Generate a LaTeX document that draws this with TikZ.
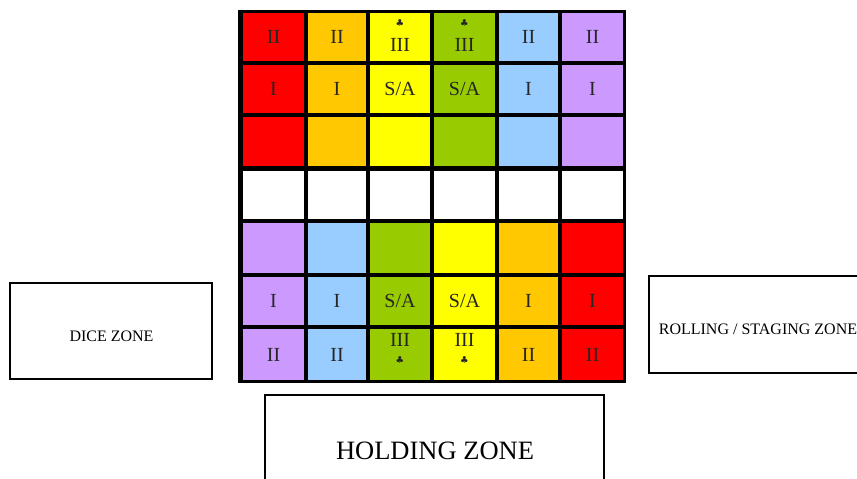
\documentclass[tikz,border=0pt]{standalone}
\usepackage{fontspec}
\setmainfont{Liberation Serif}
\newfontfamily\symfont{DejaVu Sans}
\definecolor{cred}{HTML}{FF0000}
\definecolor{corange}{HTML}{FFC800}
\definecolor{cyellow}{HTML}{FFFF00}
\definecolor{cgreen}{HTML}{99CC00}
\definecolor{cblue}{HTML}{99CCFF}
\definecolor{cpurple}{HTML}{CC99FF}
\tikzset{
  cellbox/.style={draw=none, inner sep=0pt, outer sep=0pt, anchor=north west},
  lab/.style={font=\fontsize{20}{22}\selectfont, inner sep=0pt, text height=13.2pt, text depth=0pt, text=black!85},
  clubmark/.style={font=\symfont\fontsize{9.5}{10}\selectfont, inner sep=0pt, text=black!85},
  zonebox/.style={draw=black, line width=2pt, fill=white, inner sep=0pt, outer sep=0pt},
  zonetext/.style={font=\fontsize{16}{18}\selectfont, inner sep=0pt, text height=10.6pt, text depth=0pt},
  bigtext/.style={font=\fontsize{26.5}{30}\selectfont, inner sep=0pt, text height=17.5pt, text depth=0pt}
}
\begin{document}
\begin{tikzpicture}[x=1pt,y=-1pt]
\useasboundingbox (0,0) rectangle (857,479);
\clip (0,0) rectangle (857,479);
\fill[white] (0,0) rectangle (857,479);
% board
\fill[black] (238,10) rectangle (626,383);
\foreach \c/\xa/\xb/\ct/\cb in {1/243/304/cred/cpurple, 2/308/366/corange/cblue, 3/370/430/cyellow/cgreen, 4/434/495/cgreen/cyellow, 5/499/558/cblue/corange, 6/562/623/cpurple/cred}{
  \pgfmathsetmacro\w{\xb-\xa}
  \foreach \r/\ya/\yb in {1/13/61, 2/65/113, 3/117/166}{
    \pgfmathsetmacro\h{\yb-\ya}
    \node[cellbox, fill=\ct, minimum width=\w pt, minimum height=\h pt] (cell-\r-\c) at (\xa,\ya) {};
  }
  \node[cellbox, fill=white, minimum width=\w pt, minimum height=48pt] (cell-4-\c) at (\xa,171) {};
  \foreach \r/\ya/\yb in {5/223/273, 6/277/325, 7/329/380}{
    \pgfmathsetmacro\h{\yb-\ya}
    \node[cellbox, fill=\cb, minimum width=\w pt, minimum height=\h pt] (cell-\r-\c) at (\xa,\ya) {};
  }
}
% labels
\foreach \c in {1,2,5,6}{
  \node[lab] (l1-\c) at (cell-1-\c) {II};
  \node[lab] (l2-\c) at (cell-2-\c) {I};
  \node[lab] (l6-\c) at (cell-6-\c) {I};
  \node[lab] (l7-\c) at (cell-7-\c) {II};
}
\foreach \c in {3,4}{
  \node[lab] (l2-\c) at (cell-2-\c) {S/A};
  \node[lab] (l6-\c) at (cell-6-\c) {S/A};
  \node[lab] (l1-\c) at ([yshift=-8pt]cell-1-\c.center) {III};
  \node[clubmark] (k1-\c) at ([yshift=14pt]cell-1-\c.center) {♣};
  \node[lab] (l7-\c) at ([yshift=14.5pt]cell-7-\c.center) {III};
  \node[clubmark] (k7-\c) at ([yshift=-5.5pt]cell-7-\c.center) {♣};
}
% zones
\node[zonebox, minimum width=202pt, minimum height=96pt] (dice) at (111,331) {};
\node[zonetext] (dicetext) at (111.5,336) {DICE ZONE};
\node[zonebox, minimum width=218pt, minimum height=97pt] (roll) at (758,324.5) {};
\node[zonetext] (rolltext) at (758,329) {ROLLING / STAGING ZONE};
\node[zonebox, minimum width=339pt, minimum height=110pt] (hold) at (434.5,450) {};
\node[bigtext] (holdtext) at (435,450.5) {HOLDING ZONE};
\end{tikzpicture}
\end{document}
